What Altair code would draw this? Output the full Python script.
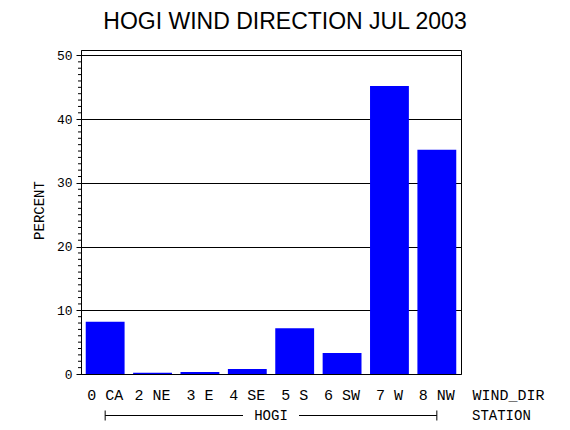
import altair as alt
import pandas as pd

categories = ["0 CA", "2 NE", "3 E", "4 SE", "5 S", "6 SW", "7 W", "8 NW"]
percent = [8.2, 0.2, 0.3, 0.8, 7.2, 3.3, 45.2, 35.2]
major_ticks = [0, 10, 20, 30, 40, 50]
minor_ticks = [v for v in range(1, 50) if v % 10]
station = "HOGI"
title_text = "HOGI WIND DIRECTION JUL 2003"

df = pd.DataFrame({"dir": categories, "pct": percent})
df_minor = pd.DataFrame({"pct": minor_ticks})
df_first = pd.DataFrame({"dir": [categories[0]]})
df_last = pd.DataFrame({"dir": [categories[-1]]})
df_ends = pd.DataFrame({"dir": [categories[0], categories[-1]]})

MONO = "Liberation Mono"
W, H = 380, 324
ROW = 365.5  # station row, pixels below the plot top

xscale = alt.Scale(domain=categories, paddingInner=0.18, paddingOuter=0.1)
yscale = alt.Scale(domain=[0, 50.86], nice=False, zero=True)

bars = alt.Chart(df).mark_bar(color="#0000FF").encode(
    x=alt.X("dir:N", scale=xscale, sort=categories,
            axis=alt.Axis(title="WIND_DIR", labelAngle=0, ticks=False, domain=False,
                          labelFont=MONO, labelFontSize=15, labelColor="black",
                          labelPadding=20, labelBaseline="middle",
                          titleFont=MONO, titleFontSize=15, titleFontWeight="normal",
                          titleColor="black", titleX=391, titleY=20,
                          titleAlign="left", titleBaseline="middle")),
    y=alt.Y("pct:Q", scale=yscale,
            axis=alt.Axis(title="PERCENT", values=major_ticks, grid=True,
                          gridColor="black", gridOpacity=1, gridWidth=1,
                          tickColor="black", tickSize=5, domainColor="black",
                          labelFont=MONO, labelFontSize=13, labelColor="black",
                          labelPadding=4,
                          titleFont=MONO, titleFontSize=14, titleFontWeight="normal",
                          titleColor="black", titleX=-42, titleY=160,
                          titleBaseline="middle", titleAlign="center")),
)

minor = alt.Chart(df_minor).mark_rule(color="black", strokeWidth=1).encode(
    y=alt.Y("pct:Q", scale=yscale),
    x=alt.value(-3), x2=alt.value(0),
)

br_left = alt.Chart(df_first).mark_rule(color="black").encode(
    x=alt.X("dir:N", scale=xscale, sort=categories),
    x2=alt.value(162),
    y=alt.value(ROW),
)
br_right = alt.Chart(df_last).mark_rule(color="black").encode(
    x=alt.X("dir:N", scale=xscale, sort=categories),
    x2=alt.value(218),
    y=alt.value(ROW),
)
br_ends = alt.Chart(df_ends).mark_rule(color="black").encode(
    x=alt.X("dir:N", scale=xscale, sort=categories),
    y=alt.value(ROW - 5), y2=alt.value(ROW + 5),
)
st_text = alt.Chart(df_first).mark_text(font=MONO, fontSize=14, color="black",
                                        baseline="middle", align="center").encode(
    x=alt.value(190), y=alt.value(ROW), text=alt.value(station),
)
st_label = alt.Chart(df_first).mark_text(font=MONO, fontSize=14, color="black",
                                         baseline="middle", align="left").encode(
    x=alt.value(391), y=alt.value(ROW), text=alt.value("STATION"),
)

chart = alt.layer(bars, minor, br_left, br_right, br_ends, st_text, st_label).properties(
    width=W, height=H,
    title=alt.TitleParams(title_text, font="Liberation Sans", fontSize=23,
                          fontWeight="normal", color="black", anchor="middle",
                          frame="group", offset=15, dx=14),
    autosize=alt.AutoSizeParams(type="none"),
    padding={"left": 73, "top": 42, "right": 101, "bottom": 48},
    background="white",
).configure_view(stroke="black", strokeWidth=1, strokeOpacity=1)

chart.save("out.html", embed_options={"renderer": "svg", "actions": False})
